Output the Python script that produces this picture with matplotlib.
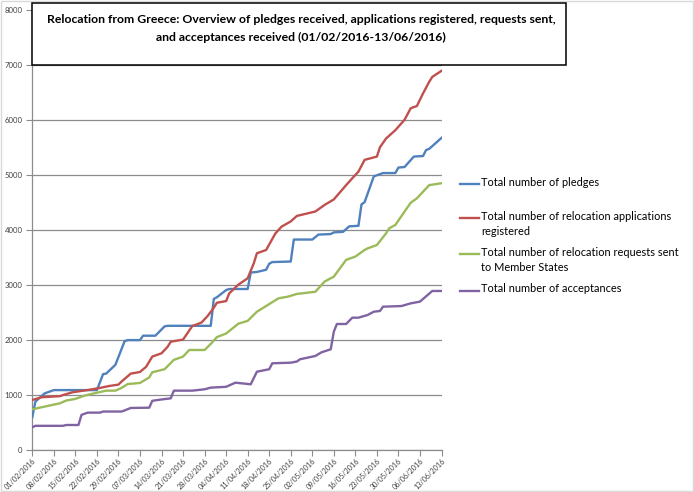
import matplotlib
matplotlib.use("Agg")
import matplotlib.pyplot as plt
import matplotlib.dates as mdates
from matplotlib.patches import Rectangle
from matplotlib.lines import Line2D
import pandas as pd

# ---------------- data ----------------
pledge_dates = ["2016-02-01", "2016-02-02", "2016-02-05", "2016-02-08", "2016-02-22", "2016-02-24",
                "2016-02-25", "2016-02-28", "2016-03-02", "2016-03-03", "2016-03-07", "2016-03-08",
                "2016-03-12", "2016-03-15", "2016-03-16", "2016-03-30", "2016-03-31", "2016-04-01",
                "2016-04-04", "2016-04-05", "2016-04-11", "2016-04-12", "2016-04-14", "2016-04-17",
                "2016-04-18", "2016-04-19", "2016-04-25", "2016-04-26", "2016-05-02", "2016-05-04",
                "2016-05-08", "2016-05-09", "2016-05-12", "2016-05-14", "2016-05-17", "2016-05-18",
                "2016-05-19", "2016-05-22", "2016-05-23", "2016-05-25", "2016-05-29", "2016-05-30",
                "2016-06-01", "2016-06-04", "2016-06-07", "2016-06-08", "2016-06-09", "2016-06-13"]
pledge_values = [600, 880, 1030, 1090, 1090, 1380, 1390, 1550, 1980, 2000, 2000, 2080,
                 2080, 2250, 2260, 2260, 2750, 2780, 2910, 2930, 2930, 3230, 3240, 3280,
                 3390, 3420, 3430, 3830, 3830, 3920, 3930, 3960, 3970, 4070, 4080, 4470,
                 4510, 4980, 5000, 5040, 5040, 5140, 5150, 5340, 5350, 5460, 5480, 5680]

appl_dates = ["2016-02-01", "2016-02-04", "2016-02-10", "2016-02-11", "2016-02-14", "2016-02-20",
              "2016-02-23", "2016-02-26", "2016-02-29", "2016-03-01", "2016-03-04", "2016-03-07",
              "2016-03-09", "2016-03-11", "2016-03-14", "2016-03-16", "2016-03-17", "2016-03-21",
              "2016-03-24", "2016-03-27", "2016-03-29", "2016-03-31", "2016-04-01", "2016-04-04",
              "2016-04-05", "2016-04-08", "2016-04-11", "2016-04-13", "2016-04-14", "2016-04-17",
              "2016-04-20", "2016-04-22", "2016-04-25", "2016-04-27", "2016-05-03", "2016-05-06",
              "2016-05-09", "2016-05-13", "2016-05-15", "2016-05-17", "2016-05-19", "2016-05-23",
              "2016-05-24", "2016-05-26", "2016-05-29", "2016-06-01", "2016-06-03", "2016-06-05",
              "2016-06-07", "2016-06-09", "2016-06-10", "2016-06-13"]
appl_values = [910, 960, 980, 1000, 1050, 1100, 1130, 1165, 1190, 1245, 1390, 1420,
               1515, 1700, 1760, 1880, 1970, 2010, 2255, 2320, 2440, 2590, 2680, 2710,
               2850, 3010, 3125, 3400, 3580, 3640, 3940, 4064, 4160, 4260, 4340, 4460,
               4560, 4820, 4945, 5065, 5280, 5340, 5510, 5670, 5820, 6010, 6220, 6260,
               6490, 6700, 6790, 6900]

req_dates = ["2016-02-01", "2016-02-05", "2016-02-10", "2016-02-12", "2016-02-15", "2016-02-18",
             "2016-02-21", "2016-02-25", "2016-02-28", "2016-03-01", "2016-03-03", "2016-03-07",
             "2016-03-10", "2016-03-11", "2016-03-15", "2016-03-18", "2016-03-21", "2016-03-23",
             "2016-03-28", "2016-03-30", "2016-04-01", "2016-04-04", "2016-04-08", "2016-04-11",
             "2016-04-14", "2016-04-17", "2016-04-21", "2016-04-24", "2016-04-27", "2016-05-03",
             "2016-05-06", "2016-05-09", "2016-05-13", "2016-05-16", "2016-05-19", "2016-05-20",
             "2016-05-23", "2016-05-26", "2016-05-27", "2016-05-29", "2016-06-01", "2016-06-03",
             "2016-06-05", "2016-06-09", "2016-06-13"]
req_values = [740, 790, 850, 900, 930, 990, 1030, 1080, 1080, 1130, 1200, 1220,
              1320, 1415, 1470, 1640, 1700, 1820, 1820, 1930, 2055, 2120, 2300, 2350,
              2517, 2620, 2760, 2790, 2840, 2880, 3065, 3155, 3460, 3520, 3640, 3670,
              3730, 3945, 4035, 4095, 4340, 4500, 4580, 4820, 4855]

acc_dates = ["2016-02-01", "2016-02-02", "2016-02-11", "2016-02-12", "2016-02-16", "2016-02-17",
             "2016-02-19", "2016-02-23", "2016-02-24", "2016-03-01", "2016-03-02", "2016-03-04",
             "2016-03-10", "2016-03-11", "2016-03-14", "2016-03-17", "2016-03-18", "2016-03-24",
             "2016-03-28", "2016-03-30", "2016-04-04", "2016-04-07", "2016-04-12", "2016-04-14",
             "2016-04-18", "2016-04-19", "2016-04-25", "2016-04-27", "2016-04-28", "2016-05-03",
             "2016-05-05", "2016-05-08", "2016-05-09", "2016-05-10", "2016-05-13", "2016-05-15",
             "2016-05-17", "2016-05-20", "2016-05-22", "2016-05-24", "2016-05-25", "2016-05-31",
             "2016-06-03", "2016-06-06", "2016-06-10", "2016-06-13"]
acc_values = [415, 440, 440, 455, 455, 640, 680, 680, 700, 700, 720, 765,
              770, 895, 920, 940, 1080, 1080, 1105, 1135, 1150, 1225, 1196, 1425,
              1470, 1578, 1589, 1610, 1651, 1711, 1778, 1833, 2153, 2293, 2293, 2408,
              2408, 2457, 2517, 2530, 2608, 2620, 2669, 2700, 2894, 2894]

series_labels = ["Total number of pledges",
                 "Total number of relocation applications\nregistered",
                 "Total number of relocation requests sent\nto Member States",
                 "Total number of acceptances"]
series_colors = ["#4F81BD", "#C0504D", "#9BBB59", "#8064A2"]

title_text = ("Relocation from Greece: Overview of pledges received, applications registered, requests sent,\n"
              "and acceptances received (01/02/2016-13/06/2016)")

tick_start, tick_end = "2016-02-01", "2016-06-13"
y_ticks = list(range(0, 8001, 1000))

# ---------------- figure ----------------
W, H = 694, 492
fig = plt.figure(figsize=(W / 100, H / 100), dpi=100)
fig.patch.set_facecolor("white")

def fx(px):
    return px / W

def fy(py):
    return (H - py) / H

ax = fig.add_axes([fx(32.3), fy(450), fx(441.5) - fx(32.3), fy(10.4) - fy(450)])

series = [(pledge_dates, pledge_values), (appl_dates, appl_values),
          (req_dates, req_values), (acc_dates, acc_values)]
for (d, v), c in zip(series, series_colors):
    ax.plot(pd.to_datetime(d), v, color=c, lw=1.7, solid_joinstyle="round", zorder=3)

ax.set_ylim(0, 8000)
ax.set_yticks(y_ticks)
ax.set_xlim(pd.Timestamp(tick_start), pd.Timestamp(tick_end))
xt = pd.date_range(tick_start, tick_end, freq="7D")
ax.set_xticks(xt)
ax.xaxis.set_major_formatter(mdates.DateFormatter("%d/%m/%Y"))

ax.grid(axis="y", color="#8c8c8c", lw=0.9, zorder=1)
ax.set_axisbelow(True)
for s in ["top", "right"]:
    ax.spines[s].set_visible(False)
for s in ["left", "bottom"]:
    ax.spines[s].set_color("#8c8c8c")
    ax.spines[s].set_linewidth(0.9)

ax.tick_params(axis="y", colors="#8c8c8c", length=4, width=0.8, labelsize=5.6,
               labelcolor="#404040", pad=3)
ax.tick_params(axis="x", colors="#8c8c8c", length=4, width=0.8, labelsize=5.2,
               labelcolor="#404040", pad=1)
for lab in ax.get_yticklabels():
    lab.set_fontfamily("Lato")
for lab in ax.get_xticklabels():
    lab.set_rotation(45)
    lab.set_ha("right")
    lab.set_rotation_mode("anchor")
    lab.set_fontfamily("Lato")

# title box
fig.patches.append(Rectangle((fx(32), fy(65)), fx(566) - fx(32), fy(3) - fy(65),
                             transform=fig.transFigure, facecolor="white",
                             edgecolor="black", lw=1.1, zorder=10))
fig.text(fx(301), fy(28.5), title_text, ha="center", va="center", fontsize=8.8,
         fontweight="bold", family="Lato", linespacing=1.85, zorder=11)

# legend (manual, Excel style: handle on first line)
legend_y = [184, 218, 254, 291]
for lab, c, y in zip(series_labels, series_colors, legend_y):
    fig.lines.append(Line2D([fx(460), fx(479)], [fy(y), fy(y)], color=c, lw=1.7,
                            transform=fig.transFigure))
    fig.text(fx(481), fy(y - 7.5), lab, ha="left", va="top", fontsize=7.9,
             family="Lato", color="black", linespacing=1.45)

# outer chart border
fig.patches.append(Rectangle((0.001, 0.002), 0.997, 0.996, transform=fig.transFigure,
                             facecolor="none", edgecolor="#d9d9d9", lw=1.0, zorder=0))

fig.savefig("out.png", dpi=100, facecolor="white")
